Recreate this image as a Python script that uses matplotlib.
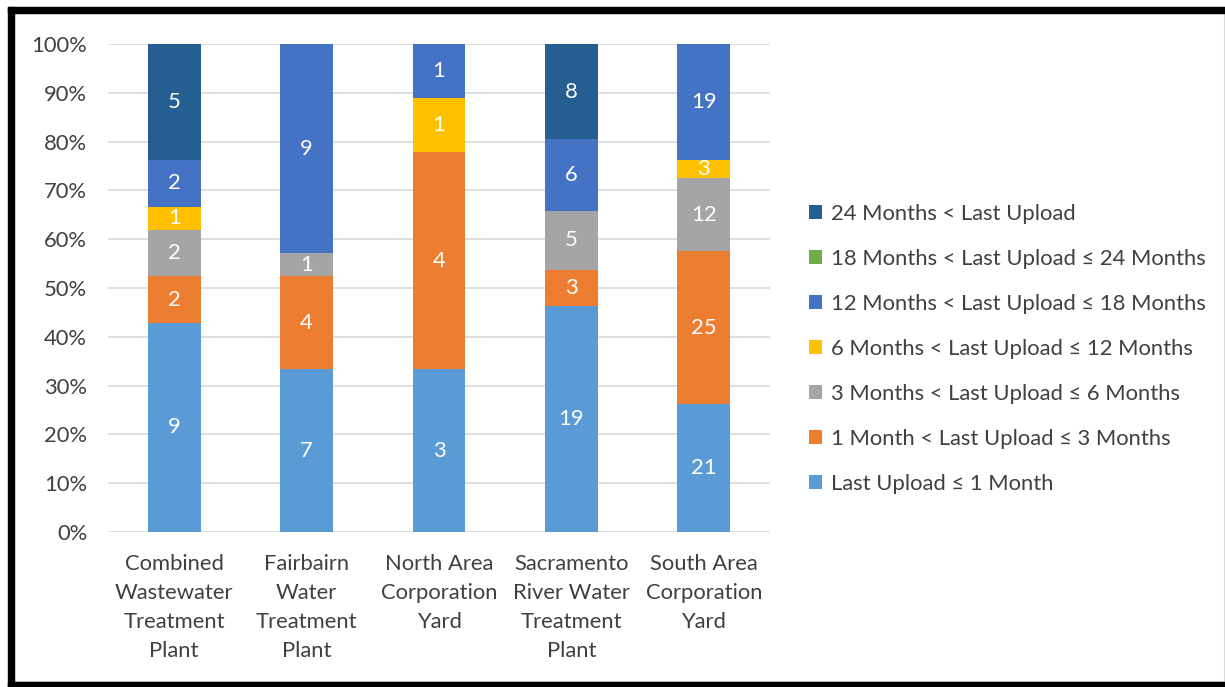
import matplotlib
matplotlib.use("Agg")
import matplotlib.pyplot as plt
from matplotlib.patches import Rectangle
import numpy as np

plt.rcParams['font.family'] = ['Lato', 'DejaVu Sans']

sites = ["Combined\nWastewater\nTreatment\nPlant",
         "Fairbairn\nWater\nTreatment\nPlant",
         "North Area\nCorporation\nYard",
         "Sacramento\nRiver Water\nTreatment\nPlant",
         "South Area\nCorporation\nYard"]

series_names = ["Last Upload \u2264 1 Month",
                "1 Month < Last Upload \u2264 3 Months",
                "3 Months < Last Upload \u2264 6 Months",
                "6 Months < Last Upload \u2264 12 Months",
                "12 Months < Last Upload \u2264 18 Months",
                "18 Months < Last Upload \u2264 24 Months",
                "24 Months < Last Upload"]

upload_1m = [9, 7, 3, 19, 21]
upload_3m = [2, 4, 4, 3, 25]
upload_6m = [2, 1, 0, 5, 12]
upload_12m = [1, 0, 1, 0, 3]
upload_18m = [2, 9, 1, 6, 19]
upload_24m = [0, 0, 0, 0, 0]
upload_over24m = [5, 0, 0, 8, 0]

colors = ["#5B9BD5", "#ED7D31", "#A5A5A5", "#FFC000", "#4472C4", "#70AD47", "#255E91"]

counts = np.array([upload_1m, upload_3m, upload_6m, upload_12m,
                   upload_18m, upload_24m, upload_over24m], dtype=float)
totals = counts.sum(axis=0)
shares = counts / totals

FS = 15.8
W, H = 1225, 687
fig = plt.figure(figsize=(W / 100, H / 100), dpi=100)
ax = fig.add_axes([108 / W, 1 - 532 / H, (770 - 108) / W, (532 - 44) / H])

x = np.arange(len(sites))
bottom = np.zeros(len(sites))
handles = []
for i, name in enumerate(series_names):
    bars = ax.bar(x, shares[i], 0.4, bottom=bottom, color=colors[i], label=name, zorder=3)
    handles.append(bars)
    for j in range(len(sites)):
        if counts[i, j] > 0:
            ax.text(x[j], bottom[j] + shares[i, j] / 2, f"{int(counts[i, j])}",
                    ha="center", va="center", color="white", fontsize=FS, zorder=4)
    bottom += shares[i]

ax.set_xlim(-0.5, len(sites) - 0.5)
ax.set_ylim(0, 1)
ax.set_yticks(np.arange(0, 1.01, 0.1))
ax.set_yticklabels([f"{int(round(v * 100))}%" for v in np.arange(0, 1.01, 0.1)])
ax.yaxis.grid(True, color="#D9D9D9", linewidth=1.2, zorder=0)
ax.set_axisbelow(True)
for s in ax.spines.values():
    s.set_visible(False)
ax.tick_params(axis="both", length=0, labelsize=FS, colors="#404040")
ax.tick_params(axis="y", pad=15)
ax.tick_params(axis="x", pad=16)
ax.set_xticks(x)
ax.set_xticklabels(sites, linespacing=1.55)

leg = fig.legend(handles[::-1], series_names[::-1], loc="center left",
                 bbox_to_anchor=(789 / W, 1 - 349 / H), frameon=False,
                 fontsize=FS, labelspacing=1.14, handlelength=0.6, handleheight=0.6,
                 handletextpad=0.4, labelcolor="#404040")

# outer frame
fig.patches.append(Rectangle((8 / W, 1 - 13 / H), 1 - 8 / W, 6 / H, transform=fig.transFigure,
                             color="black", zorder=10))
fig.patches.append(Rectangle((8 / W, 0), 6 / W, 1 - 7 / H, transform=fig.transFigure,
                             color="black", zorder=10))
fig.patches.append(Rectangle((8 / W, 0), 1 - 8 / W, 5 / H, transform=fig.transFigure,
                             color="black", zorder=10))
fig.patches.append(Rectangle((14 / W, 5 / H), 1 - 14 / W, 1 - 18 / H, transform=fig.transFigure,
                             fill=False, edgecolor="#D9D9D9", linewidth=1.5, zorder=9))

fig.savefig("out.png", dpi=100)
